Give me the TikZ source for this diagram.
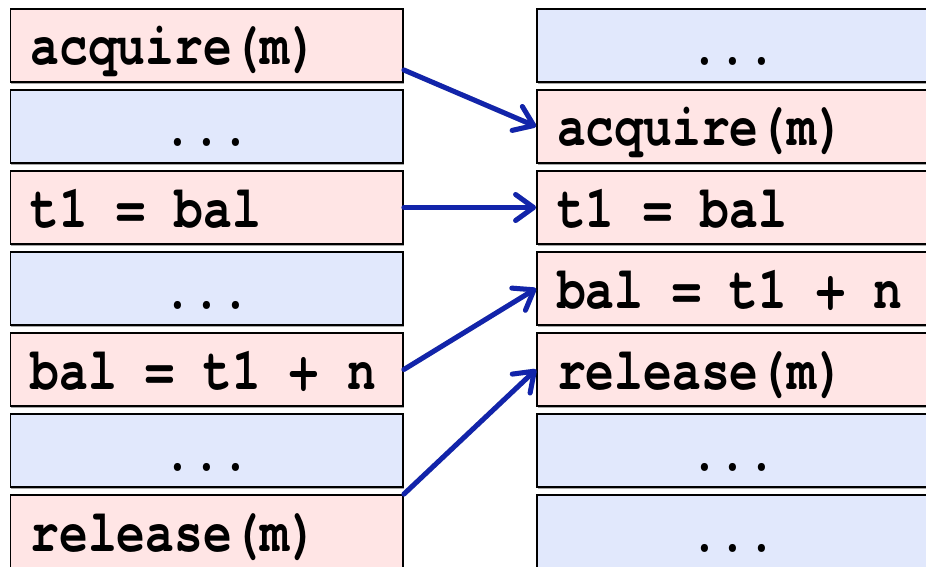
\documentclass[tikz,border=0pt]{standalone}
\usepackage{fontspec}
\newfontfamily\codefont[Extension=.otf, UprightFont=texgyrecursor-regular,
  BoldFont=texgyrecursor-bold, FakeStretch=0.8]{texgyrecursor}
\usetikzlibrary{arrows.meta,calc,shadows}
\definecolor{lockpink}{RGB}{255,229,229}
\definecolor{gapblue}{RGB}{225,232,252}
\definecolor{arrowblue}{RGB}{18,36,170}
% a blank exactly one code character wide
\newcommand\mgap{\phantom{a}}
\begin{document}
\begin{tikzpicture}[x=1pt,y=-1pt,
  cell/.style={draw=black, line width=1.8pt, minimum width=392.5pt,
    minimum height=73pt, inner xsep=20pt, inner ysep=0pt,
    text height=42pt, text depth=3pt, text width=352.5pt,
    font=\codefont\bfseries\fontsize{60}{60}\selectfont,
    drop shadow={shadow xshift=0.6pt, shadow yshift=-1.8pt, opacity=0.35, fill=black}},
  stmt/.style={cell, fill=lockpink, align=left},
  gap/.style={cell, fill=gapblue, align=center},
  flow/.style={draw=arrowblue, line width=5pt, line cap=round,
    -{Straight Barb[length=18pt,width=26pt,line cap=round,line join=round]}},
  flowshade/.style={flow, draw=black, opacity=0.18, shift={(1pt,2.5pt)}}
]
\useasboundingbox (0,0) rectangle (926,567);
\clip (0,0) rectangle (926,567);

% thread one
\node[stmt] (L0) at (206.75,45.5)  {acquire(m)};
\node[gap]  (L1) at (206.75,126.5) {...};
\node[stmt] (L2) at (206.75,207.5) {t1\mgap=\mgap bal};
\node[gap]  (L3) at (206.75,288.5) {...};
\node[stmt] (L4) at (206.75,369.5) {bal\mgap=\mgap t1\mgap+\mgap n};
\node[gap]  (L5) at (206.75,450.5) {...};
\node[stmt] (L6) at (206.75,531.5) {release(m)};

% thread two
\node[gap]  (R0) at (733.25,45.5)  {...};
\node[stmt] (R1) at (733.25,126.5) {acquire(m)};
\node[stmt] (R2) at (733.25,207.5) {t1\mgap=\mgap bal};
\node[stmt] (R3) at (733.25,288.5) {bal\mgap=\mgap t1\mgap+\mgap n};
\node[stmt] (R4) at (733.25,369.5) {release(m)};
\node[gap]  (R5) at (733.25,450.5) {...};
\node[gap]  (R6) at (733.25,531.5) {...};

% how the statements line up: a faint shade first, then the arrow
\coordinate (a0) at ($(L0.east)+(0,24.5)$);
\coordinate (a1) at (L2.east);
\coordinate (a2) at (L4.east);
\coordinate (a3) at (L6.north east);
\foreach \s/\t in {a0/R1, a1/R2, a2/R3, a3/R4} {
  \draw[flowshade] (\s) -- (\t.west);
  \draw[flow] (\s) -- (\t.west);
}
\end{tikzpicture}
\end{document}
